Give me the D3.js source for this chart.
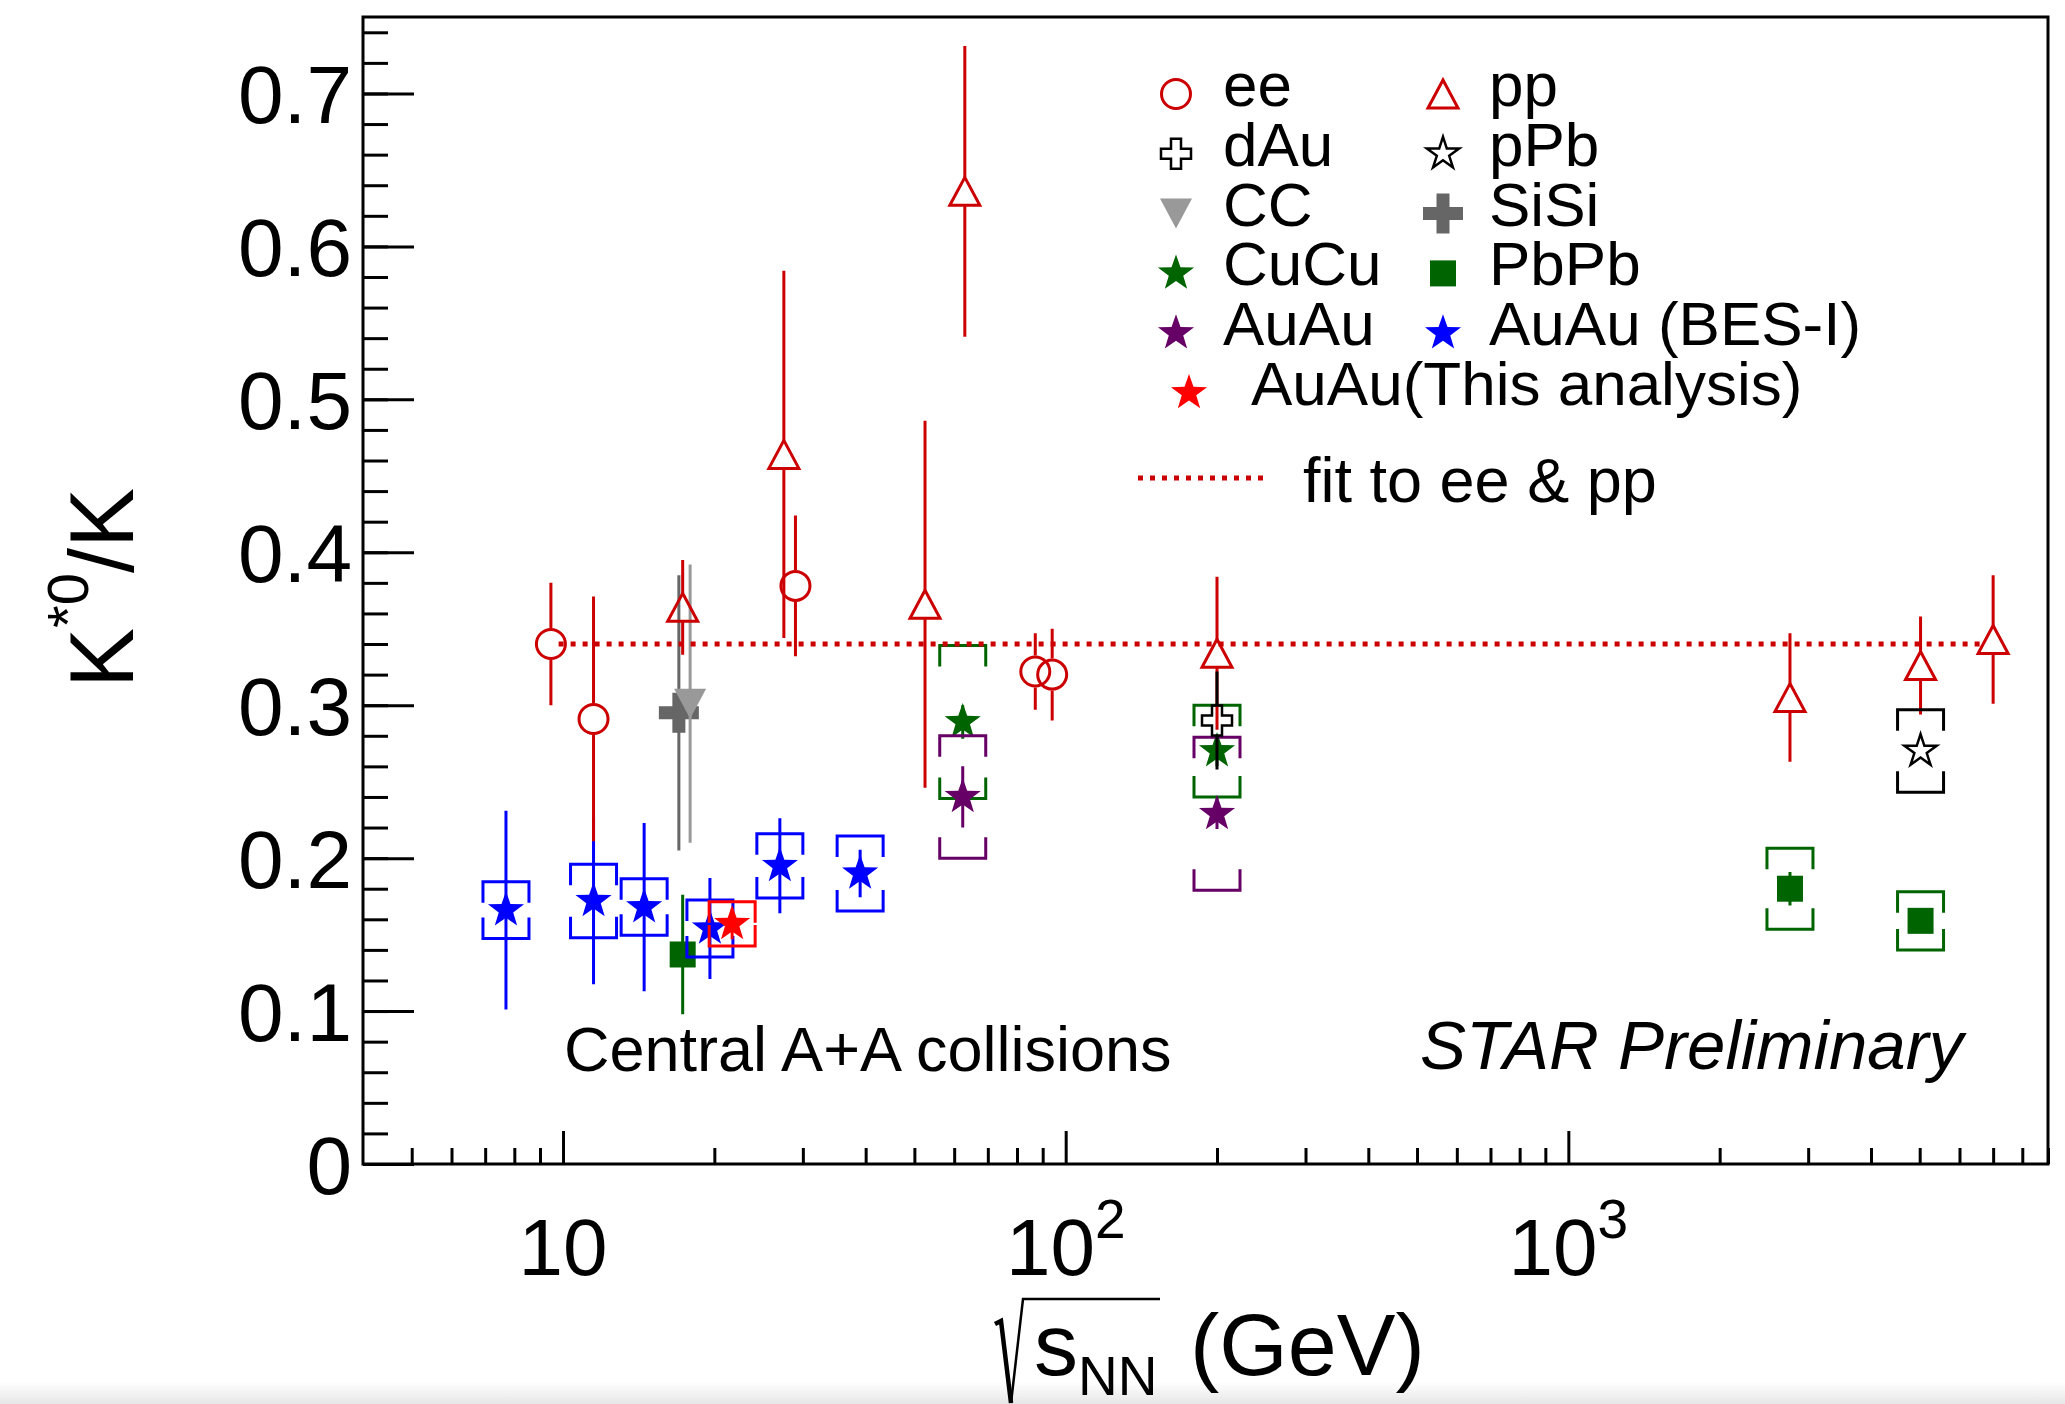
<!DOCTYPE html>
<html>
<head>
<meta charset="utf-8">
<script src="https://cdn.jsdelivr.net/npm/d3@7"></script>
<style>
body{margin:0;background:#fff;overflow:hidden;}
svg text{font-family:"Liberation Sans",Arial,Helvetica,sans-serif;fill:#000;}
</style>
</head>
<body>
<svg id="chart"></svg>
<script>
/*
  K*0/K ratio vs collision energy
*/
// e+e-
var eeE   = [9.46, 11.5, 29, 87, 94];
var eeVal = [0.340, 0.291, 0.378, 0.322, 0.320];
var eeErr = [0.040, 0.080, 0.046, 0.025, 0.030];
// p+p
var ppE   = [17.3, 27.5, 52.5, 63, 200, 2760, 5020, 7000];
var ppVal = [0.364, 0.464, 0.366, 0.636, 0.334, 0.305, 0.326, 0.343];
var ppErr = [0.031, 0.120, 0.120, 0.095, 0.050, 0.042, 0.032, 0.042];
// d+Au, p+Pb
var dAuE = [200],  dAuVal = [0.290], dAuErr = [0.032];
var pPbE = [5020], pPbVal = [0.270], pPbErr = [0.008], pPbSys = [0.027];
// C+C, Si+Si
var ccE   = [17.9], ccVal   = [0.301], ccErr   = [0.091];
var sisiE = [17.0], sisiVal = [0.295], sisiErr = [0.090];
// Cu+Cu
var cucuE = [62.4, 200], cucuVal = [0.289, 0.270], cucuErr = [0.011, 0.010], cucuSys = [0.050, 0.030];
// Au+Au
var auauE = [62.4, 200], auauVal = [0.240, 0.229], auauErr = [0.020, 0.010], auauSys = [0.040, 0.050];
// Pb+Pb
var pbpbE = [17.3, 2760, 5020], pbpbVal = [0.137, 0.180, 0.159], pbpbErr = [0.039, 0.011, 0.006], pbpbSys = [0, 0.0265, 0.019];
// Au+Au BES-I
var besE   = [7.7, 11.5, 14.5, 19.6, 27, 39];
var besVal = [0.166, 0.172, 0.168, 0.154, 0.195, 0.190];
var besErr = [0.065, 0.0545, 0.055, 0.033, 0.031, 0.0155];
var besSys = [0.0185, 0.024, 0.0185, 0.0187, 0.021, 0.0245];
// Au+Au, this analysis
var thisE = [21.7], thisVal = [0.157], thisErr = [0.010], thisSys = [0.0144];
// constant fit to ee & pp
var fitRange = [9.8, 6700], fitVal = 0.34;

// axis ticks
var xMajor = [10, 100, 1000];
var xMinor = [5,6,7,8,9,20,30,40,50,60,70,80,90,200,300,400,500,600,700,800,900,2000,3000,4000,5000,6000,7000,8000,9000];
var xLabelBase = ["10", "10", "10"], xLabelExp = ["", "2", "3"];
var yMajor = [0, 0.1, 0.2, 0.3, 0.4, 0.5, 0.6, 0.7];

// legend
var legendKeys1 = ["ee", "dAu", "CC", "CuCu", "AuAu"];
var legendText1 = ["ee", "dAu", "CC", "CuCu", "AuAu"];
var legendKeys2 = ["pp", "pPb", "SiSi", "PbPb", "BES"];
var legendText2 = ["pp", "pPb", "SiSi", "PbPb", "AuAu (BES-I)"];

//Canvas setting
var W = 2065, H = 1404;
var frame = {left: 363, right: 2048, top: 17, bottom: 1164};
var svg = d3.select("#chart").attr("width", W).attr("height", H);
svg.append("rect").attr("width", W).attr("height", H).attr("fill", "#fff");

var x = d3.scaleLog().domain([4, 9000]).range([frame.left, frame.right]);
var y = d3.scaleLinear().domain([0, 0.75]).range([frame.bottom, frame.top]);

// bottom shading of the screenshot
var grad = svg.append("defs").append("linearGradient").attr("id", "shade")
  .attr("x1", 0).attr("y1", 0).attr("x2", 0).attr("y2", 1);
grad.append("stop").attr("offset", 0).attr("stop-color", "#ffffff");
grad.append("stop").attr("offset", 1).attr("stop-color", "#e6e6e6");
svg.append("rect").attr("x", 0).attr("y", 1382).attr("width", W).attr("height", 22).attr("fill", "url(#shade)");

//Marker shapes
function starPath(R, r){
  var p = [];
  for (var i = 0; i < 10; i++){
    var a = -Math.PI/2 + i*Math.PI/5, rr = (i%2 === 0) ? R : r;
    p.push(( rr*Math.cos(a)).toFixed(2) + "," + (rr*Math.sin(a)).toFixed(2));
  }
  return "M" + p.join("L") + "Z";
}
function crossPath(h, a){
  var p = [[-a,-h],[a,-h],[a,-a],[h,-a],[h,a],[a,a],[a,h],[-a,h],[-a,a],[-h,a],[-h,-a],[-a,-a]];
  return "M" + p.map(function(d){return d[0]+","+d[1];}).join("L") + "Z";
}
function triPath(w, h, up){
  return up ? "M0,"+(-h)+"L"+w+","+h+"L"+(-w)+","+h+"Z"
            : "M0,"+h+"L"+w+","+(-h)+"L"+(-w)+","+(-h)+"Z";
}
function squarePath(h){ return "M"+(-h)+","+(-h)+"H"+h+"V"+h+"H"+(-h)+"Z"; }
function circlePath(r){ return "M"+(-r)+",0A"+r+","+r+" 0 1,0 "+r+",0A"+r+","+r+" 0 1,0 "+(-r)+",0Z"; }

var shapes = {
  circle:    {d: circlePath(14.5), gap: 16},
  triUp:     {d: triPath(15, 14, true), gap: 14},
  triDown:   {d: triPath(16, 15, false), gap: 0},
  openCross: {d: crossPath(15, 5), gap: 15},
  cross:     {d: crossPath(20, 6.5), gap: 0},
  star:      {d: starPath(19, 7.6), gap: 0},
  openStar:  {d: starPath(17, 6.5), gap: 17},
  square:    {d: squarePath(13), gap: 0}
};

var styles = {
  SiSi: {shape: "cross",     color: "#666666", filled: true},
  CC:   {shape: "triDown",   color: "#999999", filled: true},
  PbPb: {shape: "square",    color: "#006400", filled: true},
  CuCu: {shape: "star",      color: "#006400", filled: true},
  AuAu: {shape: "star",      color: "#660066", filled: true},
  BES:  {shape: "star",      color: "#0000ff", filled: true},
  This: {shape: "star",      color: "#ff0000", filled: true},
  ee:   {shape: "circle",    color: "#cc0000", filled: false},
  pp:   {shape: "triUp",     color: "#cc0000", filled: false},
  dAu:  {shape: "openCross", color: "#000000", filled: false},
  pPb:  {shape: "openStar",  color: "#000000", filled: false}
};

// drawing order
var series = [
  {key: "SiSi", e: sisiE, v: sisiVal, err: sisiErr},
  {key: "CC",   e: ccE,   v: ccVal,   err: ccErr},
  {key: "PbPb", e: pbpbE, v: pbpbVal, err: pbpbErr, sys: pbpbSys},
  {key: "CuCu", e: cucuE, v: cucuVal, err: cucuErr, sys: cucuSys},
  {key: "AuAu", e: auauE, v: auauVal, err: auauErr, sys: auauSys},
  {key: "BES",  e: besE,  v: besVal,  err: besErr,  sys: besSys},
  {key: "This", e: thisE, v: thisVal, err: thisErr, sys: thisSys},
  {key: "ee",   e: eeE,   v: eeVal,   err: eeErr},
  {key: "pp",   e: ppE,   v: ppVal,   err: ppErr},
  {key: "dAu",  e: dAuE,  v: dAuVal,  err: dAuErr},
  {key: "pPb",  e: pPbE,  v: pPbVal,  err: pPbErr, sys: pPbSys}
];

function bracket(cx, yt, yb){
  var hw = 23, leg = Math.min(21, (yb - yt)/2);
  return "M"+(cx-hw)+","+(yt+leg)+"V"+yt+"H"+(cx+hw)+"V"+(yt+leg)
       + "M"+(cx-hw)+","+(yb-leg)+"V"+yb+"H"+(cx+hw)+"V"+(yb-leg);
}
function statBar(cx, cy, yt, yb, gap){
  var p = "";
  if (yt < cy - gap) p += "M"+cx+","+yt+"V"+(cy-gap);
  if (yb > cy + gap) p += "M"+cx+","+(cy+gap)+"V"+yb;
  return p || "M0,0";
}

var plot = svg.append("g");

function drawSeries(s){
  var st = styles[s.key], sh = shapes[st.shape];
  var pts = s.e.map(function(e, i){
    return {e: e, v: s.v[i], err: s.err[i], sys: s.sys ? s.sys[i] : 0};
  });
  var g = plot.append("g").attr("class", "series-" + s.key);
  g.selectAll(".sys").data(pts.filter(function(d){return d.sys > 0;}))
    .enter().append("path").attr("class", "sys")
    .attr("d", function(d){ return bracket(x(d.e), y(d.v + d.sys), y(d.v - d.sys)); })
    .attr("fill", "none").attr("stroke", st.color).attr("stroke-width", 3);
  g.selectAll(".stat").data(pts)
    .enter().append("path").attr("class", "stat")
    .attr("d", function(d){ return statBar(x(d.e), y(d.v), y(d.v + d.err), y(d.v - d.err), sh.gap); })
    .attr("fill", "none").attr("stroke", st.color).attr("stroke-width", 3);
  g.selectAll(".mk").data(pts)
    .enter().append("path").attr("class", "mk")
    .attr("d", sh.d)
    .attr("transform", function(d){ return "translate(" + x(d.e) + "," + y(d.v) + ")"; })
    .attr("fill", st.filled ? st.color : "none")
    .attr("stroke", st.filled ? "none" : st.color)
    .attr("stroke-width", st.shape === "openStar" || st.shape === "openCross" ? 2.5 : 3);
}
series.forEach(drawSeries);

// fit line
plot.append("line")
  .attr("x1", x(fitRange[0])).attr("x2", x(fitRange[1]))
  .attr("y1", y(fitVal)).attr("y2", y(fitVal))
  .attr("stroke", "#cc0000").attr("stroke-width", 5).attr("stroke-dasharray", "5,7");

//Axes
var xMin = d3.axisBottom(x).tickValues(xMinor).tickSizeInner(-16).tickSizeOuter(0).tickFormat("");
var xMaj = d3.axisBottom(x).tickValues(xMajor).tickSizeInner(-33).tickSizeOuter(0).tickFormat("");
var yMin = d3.axisLeft(y).tickValues(d3.range(0, 0.751, 0.02)).tickSizeInner(-25).tickSizeOuter(0).tickFormat("");
var yMaj = d3.axisLeft(y).tickValues(yMajor).tickSizeInner(-51).tickSizeOuter(0).tickPadding(11)
  .tickFormat(function(d){ return d === 0 ? "0" : d3.format(".1f")(d); });

[xMin, xMaj].forEach(function(ax){
  svg.append("g").attr("transform", "translate(0," + frame.bottom + ")").call(ax)
    .call(function(g){ g.select(".domain").remove(); g.selectAll("line").attr("stroke", "#000").attr("stroke-width", 3); });
});
[yMin, yMaj].forEach(function(ax){
  svg.append("g").attr("transform", "translate(" + frame.left + ",0)").call(ax)
    .call(function(g){
      g.select(".domain").remove();
      g.selectAll("line").attr("stroke", "#000").attr("stroke-width", 3);
      g.selectAll("text").attr("dy", "0.36em").style("font-size", "82px")
        .style("font-family", "'Liberation Sans', Arial, sans-serif").attr("fill", "#000");
    });
});

svg.append("rect")
  .attr("x", frame.left).attr("y", frame.top)
  .attr("width", frame.right - frame.left).attr("height", frame.bottom - frame.top)
  .attr("fill", "none").attr("stroke", "#000").attr("stroke-width", 3);

// x tick labels with powers of ten
xMajor.forEach(function(v, i){
  var t = svg.append("text").attr("x", x(v)).attr("y", 1275)
    .attr("text-anchor", "middle").style("font-size", "80px");
  t.append("tspan").text(xLabelBase[i]);
  if (xLabelExp[i]) t.append("tspan").attr("dy", -37).style("font-size", "55px").text(xLabelExp[i]);
});

// axis titles
var yt = svg.append("text").attr("transform", "translate(133,588) rotate(-90)")
  .attr("text-anchor", "middle").style("font-size", "90px");
yt.append("tspan").text("K");
yt.append("tspan").attr("dy", -45).style("font-size", "58px").text("*0");
yt.append("tspan").attr("dy", 45).text("/K");

svg.append("path").attr("d", "M995,1324L1001,1321L1011,1403")
  .attr("fill", "none").attr("stroke", "#000").attr("stroke-width", 4.5);
svg.append("path").attr("d", "M1011,1403L1023,1299H1160")
  .attr("fill", "none").attr("stroke", "#000").attr("stroke-width", 2.5);
var xt = svg.append("text").attr("x", 1034).attr("y", 1375).style("font-size", "88px");
xt.append("tspan").text("s");
xt.append("tspan").attr("dy", 20).style("font-size", "55px").text("NN");
xt.append("tspan").attr("x", 1190).attr("dy", -20).text("(GeV)");

//Annotations
svg.append("text").attr("x", 564).attr("y", 1071).style("font-size", "63px").text("Central A+A collisions");
svg.append("text").attr("x", 1420).attr("y", 1069).style("font-size", "69px").style("font-style", "italic").text("STAR Preliminary");

//Legend
var leg = svg.append("g");
function legendMarker(key, cx, cy){
  var st = styles[key], sh = shapes[st.shape];
  leg.append("path").attr("d", sh.d).attr("transform", "translate(" + cx + "," + cy + ")")
    .attr("fill", st.filled ? st.color : "none")
    .attr("stroke", st.filled ? "none" : st.color)
    .attr("stroke-width", st.shape === "openStar" || st.shape === "openCross" ? 2.5 : 3);
}
legendKeys1.forEach(function(k, i){
  var ry = 94 + i*59.8;
  legendMarker(k, 1176, ry);
  leg.append("text").attr("x", 1223).attr("y", ry + 12).style("font-size", "62px").text(legendText1[i]);
  legendMarker(legendKeys2[i], 1443, ry);
  leg.append("text").attr("x", 1489).attr("y", ry + 12).style("font-size", "62px").text(legendText2[i]);
});
legendMarker("This", 1189, 393);
leg.append("text").attr("x", 1251).attr("y", 405).style("font-size", "62px").text("AuAu(This analysis)");
leg.append("line").attr("x1", 1138).attr("x2", 1270).attr("y1", 478).attr("y2", 478)
  .attr("stroke", "#cc0000").attr("stroke-width", 5).attr("stroke-dasharray", "5,7");
leg.append("text").attr("x", 1303).attr("y", 502).style("font-size", "63px").text("fit to ee & pp");
</script>
</body>
</html>
